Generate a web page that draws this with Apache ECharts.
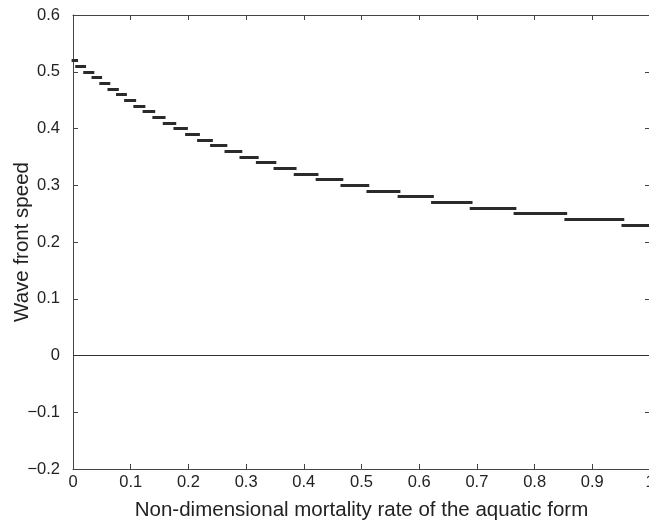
<!DOCTYPE html>
<html>
<head>
<meta charset="utf-8">
<script src="https://cdn.jsdelivr.net/npm/echarts@6/dist/echarts.min.js"></script>
<style>html,body{margin:0;padding:0;background:#fff}#c{width:649px;height:524px}</style>
</head>
<body>
<div id="c"></div>
<script>
// Step levels of wave front speed (rounded values), left to right
var speedValues = [0.52,0.51,0.50,0.49,0.48,0.47,0.46,0.45,0.44,0.43,0.42,0.41,0.40,0.39,0.38,0.37,0.36,0.35,0.34,0.33,0.32,0.31,0.30,0.29,0.28,0.27,0.26,0.25,0.24,0.23];
// Mortality rates where the speed level changes (31 boundaries for 30 levels)
var breakpoints = [0,0.0063,0.0202,0.0345,0.048,0.0622,0.077,0.091,0.107,0.123,0.140,0.158,0.1765,0.1967,0.2175,0.240,0.265,0.291,0.3194,0.350,0.385,0.423,0.466,0.511,0.565,0.623,0.690,0.766,0.854,0.953,1.0];
// Reference line
var zeroLine = [[0,0],[1,0]];
var xTicks = [0,0.1,0.2,0.3,0.4,0.5,0.6,0.7,0.8,0.9,1];
var yTicks = [-0.2,-0.1,0,0.1,0.2,0.3,0.4,0.5,0.6];

var segs = speedValues.map(function(v,i){
  return {coords:[[breakpoints[i],v],[breakpoints[i+1],v]]};
});

var axisCol = '#444';
var txtCol = '#222';
var font = 'Liberation Sans, Arial, Helvetica, sans-serif';
function fmt(v){
  var r = Math.round(v*10)/10;
  var s = (Math.abs(r) < 1e-9) ? '0' : String(r);
  return s.replace('-', '\u2212');
}
var chart = echarts.init(document.getElementById('c'), null, {renderer:'canvas'});
chart.setOption({
  backgroundColor:'#fff',
  animation:false,
  grid:{left:73, top:15, width:577, height:454, containLabel:false, outerBoundsMode:'none'},
  xAxis:[{
    type:'value', min:0, max:1, interval:0.1, position:'bottom',
    name:'Non-dimensional mortality rate of the aquatic form',
    nameLocation:'middle', nameGap:31, nameMoveOverlap:false,
    nameTextStyle:{color:txtCol, fontSize:20.5, fontFamily:font},
    axisLine:{show:true, onZero:false, lineStyle:{color:axisCol, width:1}},
    axisTick:{show:true, inside:true, length:5, lineStyle:{color:axisCol}},
    axisLabel:{color:txtCol, fontSize:16.5, fontFamily:font, margin:5, formatter:fmt},
    splitLine:{show:false}
  },{
    type:'value', min:0, max:1, interval:0.1, position:'top',
    axisLine:{show:true, onZero:false, lineStyle:{color:axisCol, width:1}},
    axisTick:{show:true, inside:true, length:5, lineStyle:{color:axisCol}},
    axisLabel:{show:false}, splitLine:{show:false}
  }],
  yAxis:[{
    type:'value', min:-0.2, max:0.6, interval:0.1, position:'left',
    name:'Wave front speed', nameLocation:'middle', nameGap:40, nameMoveOverlap:false,
    nameTextStyle:{color:txtCol, fontSize:20.5, fontFamily:font},
    axisLine:{show:true, onZero:false, lineStyle:{color:axisCol, width:1}},
    axisTick:{show:true, inside:true, length:5, lineStyle:{color:axisCol}},
    axisLabel:{color:txtCol, fontSize:16.5, fontFamily:font, margin:13, formatter:fmt},
    splitLine:{show:false}
  },{
    type:'value', min:-0.2, max:0.6, interval:0.1, position:'right',
    axisLine:{show:true, onZero:false, lineStyle:{color:axisCol, width:1}},
    axisTick:{show:true, inside:true, length:5, lineStyle:{color:axisCol}},
    axisLabel:{show:false}, splitLine:{show:false}
  }],
  series:[{
    type:'line', xAxisIndex:0, yAxisIndex:0, data:zeroLine, showSymbol:false,
    lineStyle:{color:'#333', width:1.2}, silent:true
  },{
    type:'lines', coordinateSystem:'cartesian2d', xAxisIndex:0, yAxisIndex:0,
    data:segs, polyline:false,
    lineStyle:{color:'#2b2b2b', width:2.8, cap:'square', opacity:1}, silent:true
  }]
});
</script>
</body>
</html>
